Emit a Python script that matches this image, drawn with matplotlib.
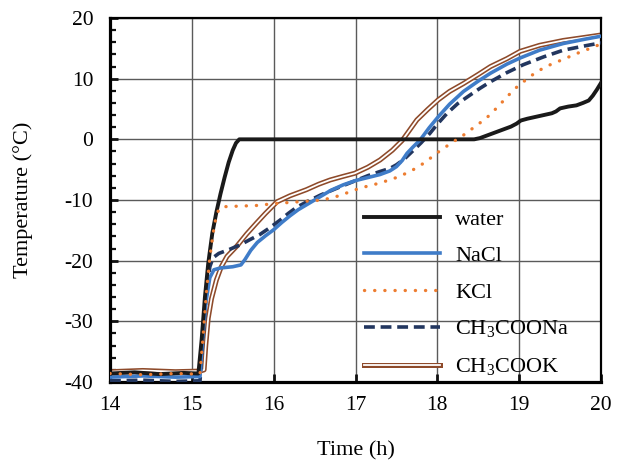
import matplotlib
matplotlib.use("Agg")
import matplotlib.pyplot as plt
import matplotlib.patheffects as pe
from matplotlib.ticker import MultipleLocator

plt.rcParams['font.family'] = ['Liberation Serif', 'DejaVu Serif']
plt.rcParams['mathtext.fontset'] = 'custom'
plt.rcParams['mathtext.rm'] = 'Liberation Serif'
plt.rcParams['axes.unicode_minus'] = False

# Temperature records (time in h, temperature in °C)
water_t = [14.0, 14.3, 14.6, 14.9, 15.08, 15.12, 15.16, 15.2, 15.25, 15.3, 15.35, 15.4,
           15.45, 15.5, 15.54, 15.58, 16.0, 17.0, 18.0, 18.45, 18.52, 18.6, 18.7, 18.8,
           18.9, 18.97, 19.02, 19.1, 19.2, 19.3, 19.4, 19.45, 19.5, 19.6, 19.7, 19.78,
           19.85, 19.9, 19.95, 20.0]
water_v = [-38.6, -38.4, -38.7, -38.5, -38.6, -33.0, -26.0, -20.5, -15.5, -12.0, -9.0, -6.3,
           -3.8, -1.8, -0.6, 0.0, 0.0, 0.0, 0.0, 0.0, 0.2, 0.6, 1.1, 1.6,
           2.1, 2.6, 3.1, 3.4, 3.7, 4.0, 4.3, 4.6, 5.1, 5.4, 5.6, 6.0,
           6.4, 7.2, 8.2, 9.3]

nacl_t = [14.0, 14.4, 14.8, 15.1, 15.13, 15.17, 15.22, 15.27, 15.35, 15.5, 15.6, 15.65,
          15.72, 15.8, 15.9, 16.0, 16.1, 16.2, 16.3, 16.4, 16.55, 16.7, 16.85, 17.0,
          17.15, 17.3, 17.42, 17.5, 17.57, 17.63, 17.7, 17.79, 17.9, 18.01, 18.15,
          18.32, 18.5, 18.65, 18.85, 19.01, 19.25, 19.54, 19.8, 20.0]
nacl_v = [-39.2, -39.0, -39.2, -39.1, -33.0, -27.0, -22.8, -21.5, -21.2, -21.0, -20.7, -19.8,
          -18.3, -17.0, -15.9, -14.9, -13.7, -12.6, -11.6, -10.8, -9.6, -8.4, -7.5, -6.8,
          -6.3, -5.8, -5.2, -4.5, -3.5, -2.3, -1.3, -0.1, 1.9, 3.7, 5.8,
          7.9, 9.6, 10.9, 12.4, 13.4, 14.7, 15.8, 16.5, 17.0]

kcl_t = [14.0, 14.4, 14.8, 15.1, 15.14, 15.18, 15.22, 15.26, 15.3, 15.34, 15.4, 15.6,
         15.8, 16.0, 16.2, 16.4, 16.6, 16.8, 17.0, 17.15, 17.3, 17.5, 17.67, 17.85,
         17.99, 18.15, 18.32, 18.45, 18.6, 18.75, 18.85, 18.97, 19.1, 19.22, 19.38,
         19.54, 19.75, 19.93, 20.0]
kcl_v = [-38.6, -38.8, -38.6, -38.7, -32.0, -25.0, -19.5, -15.5, -12.5, -11.3, -11.1, -11.0,
         -10.9, -10.6, -10.4, -10.2, -10.0, -9.3, -8.3, -7.7, -7.2, -6.3, -5.3, -3.8,
         -2.3, -0.8, 0.7, 2.0, 3.5, 5.5, 7.0, 8.6, 10.0, 11.2, 12.3,
         13.2, 14.4, 15.3, 15.8]

acna_t = [14.0, 14.4, 14.8, 15.1, 15.14, 15.18, 15.22, 15.26, 15.33, 15.45, 15.59, 15.7,
          15.83, 15.95, 16.08, 16.18, 16.28, 16.42, 16.57, 16.8, 17.02, 17.15, 17.3,
          17.42, 17.5, 17.6, 17.67, 17.8, 17.91, 18.0, 18.12, 18.25, 18.4, 18.52,
          18.65, 18.85, 19.05, 19.3, 19.54, 19.8, 20.0]
acna_v = [-39.8, -39.7, -39.9, -39.8, -32.0, -25.0, -21.0, -19.5, -18.8, -18.2, -17.4, -16.6,
          -15.7, -14.6, -13.3, -12.2, -11.2, -10.2, -9.2, -7.9, -6.7, -6.0, -5.3,
          -4.8, -4.2, -3.2, -2.3, -0.6, 1.0, 2.5, 4.3, 5.9, 7.3, 8.4,
          9.5, 11.0, 12.3, 13.6, 14.7, 15.4, 15.9]

ack_t = [14.0, 14.4, 14.8, 15.1, 15.15, 15.17, 15.2, 15.24, 15.3, 15.36, 15.43, 15.55,
         15.67, 15.79, 15.9, 16.04, 16.2, 16.4, 16.55, 16.69, 16.85, 16.99, 17.15,
         17.3, 17.45, 17.57, 17.66, 17.75, 17.88, 18.01, 18.15, 18.32, 18.5, 18.65,
         18.85, 19.01, 19.25, 19.54, 19.8, 20.0]
ack_v = [-38.3, -38.1, -38.3, -38.2, -38.0, -34.0, -29.5, -26.3, -23.2, -21.0, -19.3, -17.6,
         -15.6, -13.8, -12.2, -10.3, -9.3, -8.3, -7.4, -6.7, -6.1, -5.6, -4.6,
         -3.4, -1.8, -0.2, 1.5, 3.2, 4.9, 6.5, 7.9, 9.2, 10.7, 12.0,
         13.3, 14.5, 15.5, 16.3, 16.8, 17.2]

x_ticks = [14, 15, 16, 17, 18, 19, 20]
y_ticks = [-40, -30, -20, -10, 0, 10, 20]

fig = plt.figure(figsize=(6.19, 4.61), dpi=100)
ax = fig.add_axes([110 / 619, 1 - 382 / 461, 491 / 619, 364 / 461])

ax.plot(water_t, water_v, color='#1a1a1a', lw=2.8, label='water', zorder=5)
ax.plot(nacl_t, nacl_v, color='#3f7cc8', lw=2.6, label='NaCl', zorder=4)
ax.plot(kcl_t, kcl_v, color='#ed7d31', lw=2.4, linestyle=(0, (0.05, 3.0)),
        dash_capstyle='round', label='KCl', zorder=6)
ax.plot(acna_t, acna_v, color='#22365f', lw=2.6, linestyle=(0, (3.0, 1.6)),
        label='CH$_\\mathregular{3}$COONa', zorder=3)
ax.plot(ack_t, ack_v, color='white', lw=1.3, label='CH$_\\mathregular{3}$COOK', zorder=2,
        path_effects=[pe.Stroke(linewidth=3.6, foreground='#8e4a2a'), pe.Normal()])

ax.set_xlim(14, 20)
ax.set_ylim(-40, 20)
ax.set_xticks(x_ticks)
ax.set_yticks(y_ticks)
ax.yaxis.set_minor_locator(MultipleLocator(2))
ax.grid(True, which='major', color='#5a5a5a', lw=1.0)
ax.set_axisbelow(True)

for side in ['left', 'bottom']:
    ax.spines[side].set_linewidth(2.3)
for side in ['top', 'right']:
    ax.spines[side].set_linewidth(1.6)

ax.tick_params(axis='both', which='major', direction='in', length=6, width=2.0,
               labelsize=15.5, color='#111111')
ax.tick_params(axis='y', which='major', pad=12)
ax.tick_params(axis='x', which='major', pad=10)
ax.tick_params(axis='y', which='minor', direction='in', length=4, width=1.6, color='#111111')

ax.set_xlabel('Time (h)', fontsize=16, labelpad=19)
ax.set_ylabel('Temperature (°C)', fontsize=16, labelpad=23)

ax.legend(loc='upper left', bbox_to_anchor=(353 / 619, 1 - 198 / 461),
          bbox_transform=fig.transFigure, frameon=False, fontsize=16,
          handlelength=3.4, handletextpad=0.7, labelspacing=0.72, borderpad=0)

fig.savefig('out.png', dpi=100)
